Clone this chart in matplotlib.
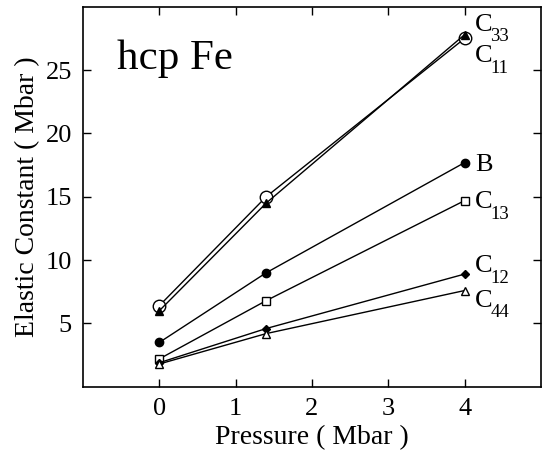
import matplotlib
matplotlib.use("Agg")
import matplotlib.pyplot as plt

plt.rcParams['font.family'] = ['Liberation Serif', 'DejaVu Serif']

pressure = [0, 1.4, 4]
C11 = [6.4, 15.0, 27.5]
C33 = [6.0, 14.5, 27.8]
B = [3.5, 9.0, 17.7]
C13 = [2.2, 6.8, 14.7]
C12 = [1.9, 4.6, 8.9]
C44 = [1.8, 4.2, 7.6]

series = [
    (C11, 'o', 'white', 9, 'C', '11', 26.3),
    (C33, '^', 'black', 6, 'C', '33', 28.8),
    (B, 'o', 'black', 6, 'B', '', 17.7),
    (C13, 's', 'white', 6, 'C', '13', 14.8),
    (C12, 'D', 'black', 4, 'C', '12', 9.75),
    (C44, '^', 'white', 6, 'C', '44', 7.0),
]

fig = plt.figure(figsize=(5.42, 4.54), dpi=100)
ax = fig.add_axes([0.153, 0.148, 0.845, 0.837])
for vals, mk, fc, ms, lab, sub, ly in series:
    ax.plot(pressure, vals, color='black', lw=1.0, marker=mk, mfc=fc, mec='black',
            ms=ms, mew=1.0)
    ax.text(4.14, ly, lab, fontsize=19, va='center_baseline', ha='left')
    if sub:
        ax.annotate(sub, xy=(4.14, ly), xytext=(11.0, -4.5), textcoords='offset points',
                    va='top', ha='left', fontsize=13.5)

ax.set_xlim(-1, 5)
ax.set_ylim(0, 30)
ax.set_xticks([0, 1, 2, 3, 4])
ax.set_yticks([5, 10, 15, 20, 25])
ax.tick_params(direction='in', top=True, right=True, labelsize=19, length=6, width=1, pad=8)
ax.set_xlabel('Pressure ( Mbar )', fontsize=20)
ax.set_ylabel('Elastic Constant ( Mbar )', fontsize=20)
ax.text(0.075, 0.915, 'hcp Fe', transform=ax.transAxes, fontsize=31, va='top', ha='left')
for s in ax.spines.values():
    s.set_linewidth(1.2)
fig.savefig('out.png', dpi=100)
